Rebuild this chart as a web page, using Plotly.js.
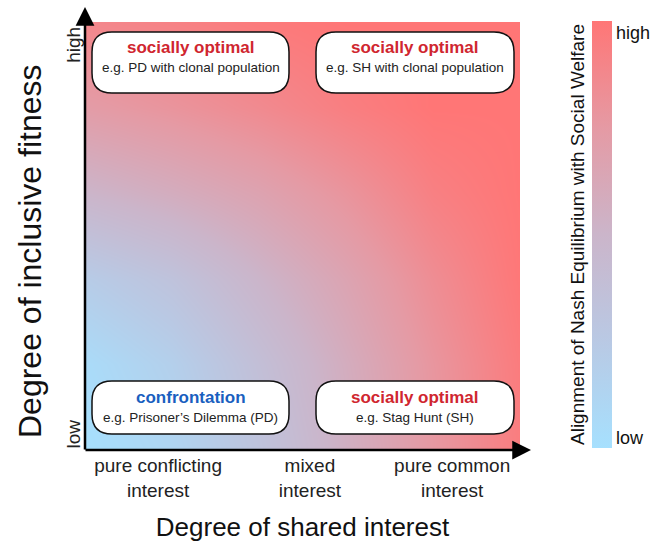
<!DOCTYPE html>
<html>
<head>
<meta charset="utf-8">
<script src="https://cdn.plot.ly/plotly-3.0.1.min.js"></script>
<style>html,body{margin:0;padding:0;background:#fff;}#chart{width:652px;height:549px;}</style>
</head>
<body>
<div id="chart"></div>
<script>
// ---- data ----
var gridX = [0, 0.2, 0.4, 0.6, 0.8, 1];
var gridY = [0, 0.2, 0.4, 0.6, 0.8, 1];
var alignment = [
  [0.00, 0.12, 0.32, 0.55, 0.76, 0.95],
  [0.05, 0.18, 0.38, 0.58, 0.78, 0.96],
  [0.22, 0.33, 0.50, 0.66, 0.84, 0.99],
  [0.50, 0.58, 0.67, 0.79, 0.93, 1.00],
  [0.73, 0.79, 0.86, 0.94, 1.00, 1.00],
  [0.88, 0.92, 0.97, 1.00, 1.00, 1.00]
];
var xTickVals = [0.168, 0.517, 0.844];
var xTickText = ['pure conflicting<br>interest', 'mixed<br>interest', 'pure common<br>interest'];
var yTickVals = [0.03, 0.94];
var yTickText = ['low', 'high'];
var cbTickVals = [0.023, 0.972];
var cbTickText = ['low', 'high'];
var boxTitles = ['socially optimal', 'socially optimal', 'confrontation', 'socially optimal'];
var boxSubs = ['e.g. PD with clonal population', 'e.g. SH with clonal population', 'e.g. Prisoner\u2019s Dilemma (PD)', 'e.g. Stag Hunt (SH)'];
var boxTitleColors = ['#d0262f', '#d0262f', '#1a5fbf', '#d0262f'];
var xTitle = 'Degree of shared interest';
var yTitle = 'Degree of inclusive fitness';
var cbTitle = 'Alignment of Nash Equilibrium with Social Welfare';

// ---- layout helpers (pixel -> paper) ----
var L = 85, R = 520, T = 22, B = 450;
function px(x) { return (x - L) / (R - L); }
function py(y) { return (B - y) / (B - T); }
function roundRect(x0, y0, x1, y1, r) {
  function p(x, y) { return px(x).toFixed(5) + ',' + py(y).toFixed(5); }
  return 'M' + p(x0 + r, y0) + ' L' + p(x1 - r, y0) + ' Q' + p(x1, y0) + ' ' + p(x1, y0 + r) +
    ' L' + p(x1, y1 - r) + ' Q' + p(x1, y1) + ' ' + p(x1 - r, y1) +
    ' L' + p(x0 + r, y1) + ' Q' + p(x0, y1) + ' ' + p(x0, y1 - r) +
    ' L' + p(x0, y0 + r) + ' Q' + p(x0, y0) + ' ' + p(x0 + r, y0) + ' Z';
}
var boxes = [
  [92, 32, 289, 93],
  [316, 32, 514, 93],
  [92, 381, 289, 434],
  [316, 381, 514, 434]
];
var titleY = [48, 48, 397, 397];
var subY = [67, 67, 417, 417];
var FONT = 'Liberation Sans, Arial, Helvetica, sans-serif';

var shapes = boxes.map(function (b) {
  return { type: 'path', xref: 'paper', yref: 'paper', path: roundRect(b[0], b[1], b[2], b[3], 20),
    fillcolor: '#ffffff', line: { color: '#111111', width: 1.5 } };
});

var annotations = [];
boxes.forEach(function (b, i) {
  var cx = (b[0] + b[2]) / 2;
  annotations.push({ xref: 'paper', yref: 'paper', x: px(cx), y: py(titleY[i]), xanchor: 'center', yanchor: 'middle',
    showarrow: false, text: '<b>' + boxTitles[i] + '</b>', font: { family: FONT, size: 17, color: boxTitleColors[i] } });
  annotations.push({ xref: 'paper', yref: 'paper', x: px(cx), y: py(subY[i]), xanchor: 'center', yanchor: 'middle',
    showarrow: false, text: boxSubs[i], font: { family: FONT, size: 13.5, color: '#222222' } });
});
// axis arrows
annotations.push({ xref: 'paper', yref: 'paper', x: px(85), y: py(7), ax: 0, ay: 444, axref: 'pixel', ayref: 'pixel',
  showarrow: true, arrowhead: 2, arrowsize: 1.5, arrowwidth: 2.5, arrowcolor: '#000', text: '' });
annotations.push({ xref: 'paper', yref: 'paper', x: px(531), y: py(450), ax: -447, ay: 0, axref: 'pixel', ayref: 'pixel',
  showarrow: true, arrowhead: 2, arrowsize: 1.5, arrowwidth: 2.5, arrowcolor: '#000', text: '' });
// y-axis title (placed to match reference offset)
annotations.push({ xref: 'paper', yref: 'paper', x: px(30), y: py(251), xanchor: 'center', yanchor: 'middle',
  showarrow: false, textangle: -90, text: yTitle, font: { family: FONT, size: 32, color: '#111' } });
// colorbar title
annotations.push({ xref: 'paper', yref: 'paper', x: px(577), y: py(235), xanchor: 'center', yanchor: 'middle',
  showarrow: false, textangle: -90, text: cbTitle, font: { family: FONT, size: 19, color: '#111' } });

var trace = {
  type: 'heatmap', x: gridX, y: gridY, z: alignment, zmin: 0, zmax: 1, zsmooth: 'best',
  colorscale: [[0, '#a6e0fe'], [0.25, '#b9c9e4'], [0.5, '#cbb5ca'], [0.75, '#e59aa4'], [1, '#ff7676']],
  hoverinfo: 'skip',
  colorbar: {
    x: px(592), xanchor: 'left', xref: 'paper', xpad: 0, ypad: 0, thickness: 20, thicknessmode: 'pixels',
    y: py(21), yanchor: 'top', len: (448 - 21) / (B - T), lenmode: 'fraction',
    outlinewidth: 0, ticks: '', tickvals: cbTickVals, ticktext: cbTickText,
    tickfont: { family: FONT, size: 18, color: '#111' }
  }
};

var layout = {
  width: 652, height: 549,
  margin: { l: L, r: 652 - R, t: T, b: 549 - B, autoexpand: false },
  paper_bgcolor: '#ffffff', plot_bgcolor: '#ffffff',
  font: { family: FONT, color: '#111' },
  xaxis: { range: [0, 1], showgrid: false, zeroline: false, showline: false, ticks: '', automargin: false,
    tickvals: xTickVals, ticktext: xTickText, tickfont: { family: FONT, size: 19, color: '#222' }, ticklabelstandoff: 2,
    title: { text: xTitle, font: { family: FONT, size: 26, color: '#111' }, standoff: 18 } },
  yaxis: { range: [0, 1], showgrid: false, zeroline: false, showline: false, ticks: '', automargin: false,
    tickvals: yTickVals, ticktext: yTickText, tickangle: -90, tickfont: { family: FONT, size: 19, color: '#222' } },
  shapes: shapes,
  annotations: annotations,
  showlegend: false
};

Plotly.newPlot('chart', [trace], layout, { displayModeBar: false, staticPlot: true });
</script>
</body>
</html>
